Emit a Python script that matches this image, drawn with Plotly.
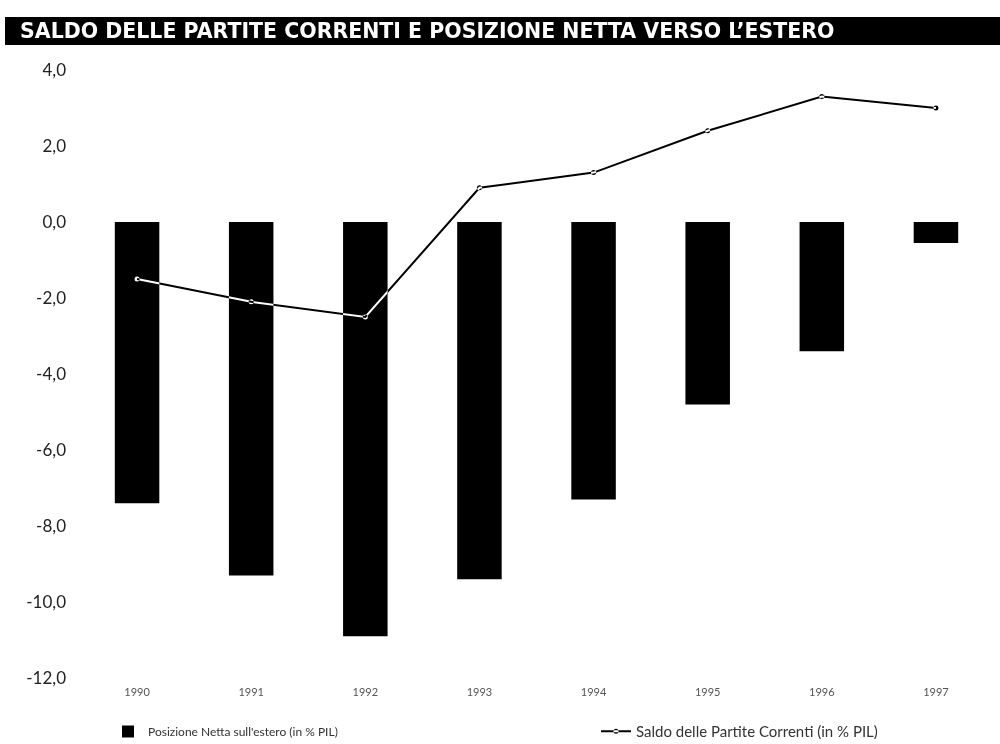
import plotly.graph_objects as go

years = ["1990", "1991", "1992", "1993", "1994", "1995", "1996", "1997"]
posizione_netta = [-7.4, -9.3, -10.9, -9.4, -7.3, -4.8, -3.4, -0.55]
saldo_correnti = [-1.5, -2.1, -2.5, 0.9, 1.3, 2.4, 3.3, 3.0]
y_tickvals = [4, 2, 0, -2, -4, -6, -8, -10, -12]
y_ticktext = ["4,0", "2,0", "0,0", "-2,0", "-4,0", "-6,0", "-8,0", "-10,0", "-12,0"]
title_text = "SALDO DELLE PARTITE CORRENTI E POSIZIONE NETTA VERSO L\u2019ESTERO"
legend_bar = "Posizione Netta sull'estero (in % PIL)"
legend_line = "Saldo delle Partite Correnti (in % PIL)"

W, H = 1000, 744
L, R, T, B = 80, 7, 70, 66
pw, ph = W - L - R, H - T - B

def px_x(p):
    return (p - L) / pw

def px_y(p):
    return (H - B - p) / ph

fig = go.Figure()
fig.add_trace(go.Bar(
    x=years, y=posizione_netta, name=legend_bar,
    marker=dict(color="black", line=dict(width=0)),
    width=0.39, legend="legend", cliponaxis=False,
))
fig.add_trace(go.Scatter(
    x=years, y=saldo_correnti, name=legend_line, mode="lines+markers",
    line=dict(color="white", width=2),
    marker=dict(color="white", size=5, symbol="circle"),
    legend="legend2", cliponaxis=False,
))

fig.update_layout(
    width=W, height=H,
    margin=dict(l=L, r=R, t=T, b=B, autoexpand=False),
    paper_bgcolor="white", plot_bgcolor="white",
    showlegend=True,
    xaxis=dict(
        type="category", showgrid=False, zeroline=False, showline=False,
        ticks="", tickfont=dict(family="Lato", size=11, color="#555"),
        range=[-0.5, 7.5], ticklabelstandoff=6,
    ),
    yaxis=dict(
        range=[-12, 4], tickvals=y_tickvals, ticktext=y_ticktext,
        showgrid=False, zeroline=False, showline=False, ticks="",
        tickfont=dict(family="Lato", size=17, color="#222"),
        ticklabelstandoff=13,
    ),
    legend=dict(
        x=px_x(108), y=px_y(717), xanchor="left", yanchor="top",
        orientation="h", bgcolor="rgba(0,0,0,0)",
        font=dict(family="Lato", size=12, color="#333"),
    ),
    legend2=dict(
        x=px_x(596), y=px_y(715), xanchor="left", yanchor="top",
        orientation="h", bgcolor="rgba(0,0,0,0)",
        font=dict(family="Lato", size=15, color="#333"),
    ),
    shapes=[dict(
        type="rect", xref="paper", yref="paper",
        x0=px_x(5), x1=px_x(1000), y0=px_y(45), y1=px_y(17),
        fillcolor="black", line=dict(width=0), layer="above",
    )],
    annotations=[dict(
        text="<b>" + title_text + "</b>", xref="paper", yref="paper",
        x=px_x(18), y=px_y(31), xanchor="left", yanchor="middle",
        showarrow=False,
        font=dict(family="DejaVu Sans", size=20.5, color="white"),
    )],
)

post = """
document.body.style.margin = '0';
document.documentElement.style.overflow = 'hidden';
var gd = document.querySelector('.js-plotly-plot');
function blend(){
  var els = gd.querySelectorAll('.scatterlayer .js-line, .scatterlayer .point, .legend2 .legendlines path, .legend2 .legendpoints path');
  els.forEach(function(el){
    el.style.mixBlendMode = 'difference';
    var p = el.parentNode;
    while (p && p.tagName && p.tagName.toLowerCase() !== 'svg') {
      if (p.getAttribute && p.getAttribute('clip-path')) p.removeAttribute('clip-path');
      p = p.parentNode;
    }
  });
}
blend();
"""
fig.write_html("out.html", post_script=post, config={"displayModeBar": False})
